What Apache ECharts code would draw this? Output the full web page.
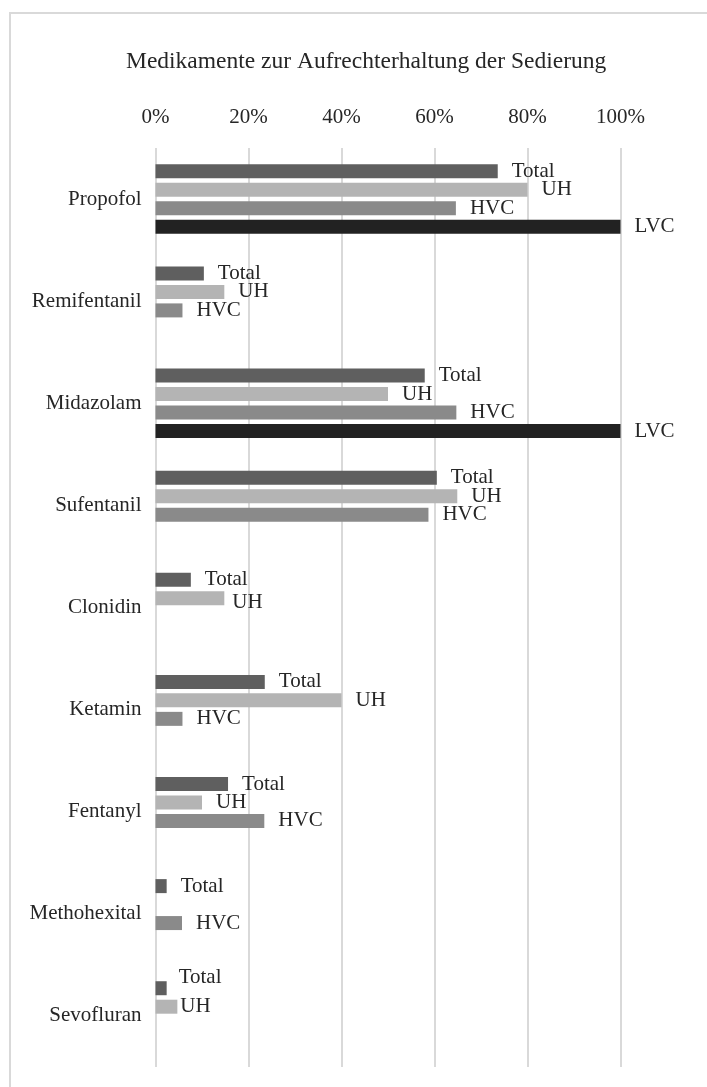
<!DOCTYPE html>
<html>
<head>
<meta charset="utf-8">
<script src="https://cdn.jsdelivr.net/npm/echarts@6/dist/echarts.min.js"></script>
<style>
  html, body { margin: 0; padding: 0; background: #ffffff; }
  #chart { width: 707px; height: 1087px; }
</style>
</head>
<body>
<div id="chart"></div>
<script>
// Drugs used to maintain sedation, share of units (%)
const categories = ['Propofol', 'Remifentanil', 'Midazolam', 'Sufentanil', 'Clonidin',
                    'Ketamin', 'Fentanyl', 'Methohexital', 'Sevofluran'];
const seriesNames = ['Total', 'UH', 'HVC', 'LVC'];
const totalValues = [73.6, 10.4, 57.9, 60.5, 7.6, 23.5, 15.6, 2.4, 2.4];
const uhValues    = [80, 14.8, 50, 64.9, 14.8, 40, 10, null, 4.7];
const hvcValues   = [64.6, 5.8, 64.7, 58.7, null, 5.8, 23.4, 5.7, null];
const lvcValues   = [100, null, 100, null, null, null, null, null, null];
const xTicks = [0, 20, 40, 60, 80, 100];

const valuesBySeries = [totalValues, uhValues, hvcValues, lvcValues];
const barColors = ['#5f5f5f', '#b4b4b4', '#8a8a8a', '#222222'];
const FONT = '"Liberation Serif", "DejaVu Serif", serif';
const TEXT = '#262626';

// small hand placements of a few crowded labels
const labelNudge = {
  'Clonidin|UH': [-6, 4],
  'Sevofluran|Total': [-2, -11],
  'Sevofluran|UH': [-11, 0]
};

const series = seriesNames.map((name, si) => ({
  name: name,
  type: 'bar',
  barWidth: 14,
  barGap: '32%',
  itemStyle: { color: barColors[si] },
  label: {
    show: true,
    position: 'right',
    distance: 14,
    formatter: '{a}',
    fontFamily: FONT,
    fontSize: 21,
    color: TEXT
  },
  data: valuesBySeries[si].map((v, ci) => {
    const nudge = labelNudge[categories[ci] + '|' + name];
    if (v == null) return null;
    return nudge ? { value: v, label: { offset: nudge } } : v;
  })
}));

const chart = echarts.init(document.getElementById('chart'), null, { renderer: 'canvas' });
chart.setOption({
  backgroundColor: '#ffffff',
  animation: false,
  title: {
    text: 'Medikamente zur Aufrechterhaltung der Sedierung',
    left: 121,
    top: 45,
    textStyle: { fontFamily: FONT, fontSize: 23.5, fontWeight: 'normal', color: TEXT }
  },
  graphic: [{
    type: 'rect',
    shape: { x: 10, y: 13, width: 720, height: 1100 },
    style: { fill: 'none', stroke: '#d9d9d9', lineWidth: 2 },
    silent: true
  }],
  grid: { left: 155.5, right: 86.5, top: 148, bottom: 20, containLabel: false },
  xAxis: {
    type: 'value',
    position: 'top',
    min: xTicks[0],
    max: xTicks[xTicks.length - 1],
    interval: xTicks[1] - xTicks[0],
    axisLine: { show: false },
    axisTick: { show: false },
    axisLabel: {
      formatter: '{value}%',
      fontFamily: FONT, fontSize: 21, color: TEXT, margin: 20
    },
    splitLine: { show: true, lineStyle: { color: '#d9d9d9', width: 2 } }
  },
  yAxis: {
    type: 'category',
    data: categories,
    inverse: true,
    axisLine: { show: false },
    axisTick: { show: false },
    axisLabel: { fontFamily: FONT, fontSize: 21, color: TEXT, margin: 14 }
  },
  series: series
});
</script>
</body>
</html>
